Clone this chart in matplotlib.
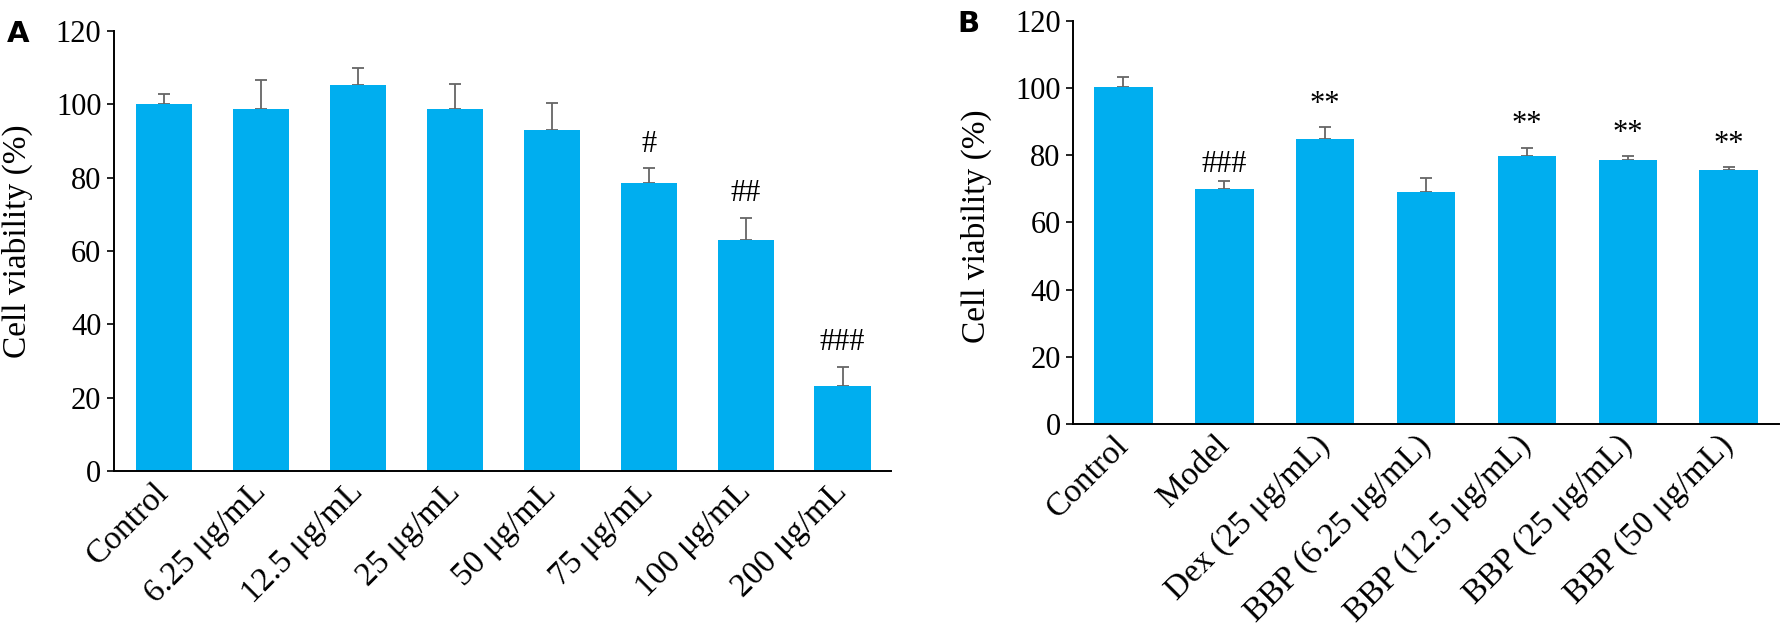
import matplotlib.pyplot as plt
from matplotlib.transforms import ScaledTranslation

# panel A: cytotoxicity of BBP alone
labels_a = ["Control", "6.25 μg/mL", "12.5 μg/mL", "25 μg/mL", "50 μg/mL",
            "75 μg/mL", "100 μg/mL", "200 μg/mL"]
means_a = [100.0, 98.7, 105.2, 98.7, 93.0, 78.5, 63.1, 23.3]
errs_a = [2.7, 7.8, 4.6, 6.9, 7.4, 4.0, 5.9, 5.1]
marks_a = ["", "", "", "", "", "#", "##", "###"]

# panel B: protection against injury
labels_b = ["Control", "Model", "Dex (25 μg/mL)", "BBP (6.25 μg/mL)",
            "BBP (12.5 μg/mL)", "BBP (25 μg/mL)", "BBP (50 μg/mL)"]
means_b = [100.3, 70.1, 84.9, 69.1, 79.8, 78.7, 75.6]
errs_b = [2.9, 2.4, 3.4, 4.0, 2.5, 1.0, 1.0]
marks_b = ["", "###", "**", "", "**", "**", "**"]

BAR_COLOR = "#00AEEF"
ERR_COLOR = "#666666"

plt.rcParams["font.family"] = "Liberation Serif"

fig = plt.figure(figsize=(17.83, 6.27), dpi=100)
ax_a = fig.add_axes([0.0639, 0.2488, 0.4358, 0.7018])
ax_b = fig.add_axes([0.6018, 0.3238, 0.3960, 0.6427])


def draw_panel(ax, labels, means, errs, marks, xlim, mark_gap, ylabel_xy):
    x = list(range(len(labels)))
    ax.bar(x, means, width=0.58, color=BAR_COLOR, zorder=2)
    ax.errorbar(x, means, yerr=[[0] * len(errs), errs], fmt="none",
                ecolor=ERR_COLOR, elinewidth=1.3, capsize=4, capthick=1.3, zorder=1)
    for xi, m, e, s in zip(x, means, errs, marks):
        if s:
            ax.text(xi, m + e + mark_gap[s], s, ha="center", va="baseline",
                    fontsize=22)
    ax.set_xlim(*xlim)
    ax.set_ylim(0, 120)
    ax.set_yticks(range(0, 121, 20))
    ax.set_xticks(x)
    ax.set_xticklabels(labels, rotation=45, ha="right", va="center",
                       rotation_mode="anchor", fontsize=24)
    shift = ScaledTranslation(0.10, 0, fig.dpi_scale_trans)
    for lab in ax.get_xticklabels():
        lab.set_transform(lab.get_transform() + shift)
    ax.tick_params(axis="x", length=0, pad=12)
    ax.tick_params(axis="y", direction="out", length=5, width=1.2, labelsize=22, pad=4)
    for side in ("top", "right"):
        ax.spines[side].set_visible(False)
    for side in ("left", "bottom"):
        ax.spines[side].set_linewidth(1.4)
    ax.set_ylabel("Cell viability (%)", fontsize=24)
    ax.yaxis.set_label_coords(*ylabel_xy)


draw_panel(ax_a, labels_a, means_a, errs_a, marks_a, (-0.52, 7.5),
           {"#": 4.5, "##": 4.5, "###": 4.5}, (-0.104, 0.523))
draw_panel(ax_b, labels_b, means_b, errs_b, marks_b, (-0.5, 6.5),
           {"###": 2.5, "**": 4.5}, (-0.115, 0.49))

fig.text(7 / 1783, 1 - 42 / 627, "A", fontsize=21, fontweight="bold",
         family="DejaVu Sans", va="baseline")
fig.text(957 / 1783, 1 - 32 / 627, "B", fontsize=21, fontweight="bold",
         family="DejaVu Sans", va="baseline")

fig.savefig("out.png", dpi=100)
